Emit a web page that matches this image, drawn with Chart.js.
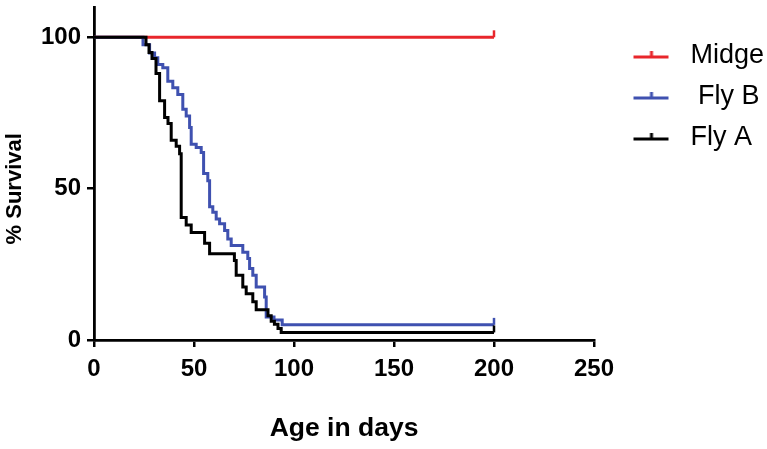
<!DOCTYPE html>
<html>
<head>
<meta charset="UTF-8">
<title>% Survival</title>
<script src="https://cdn.jsdelivr.net/npm/chart.js"></script>
<style>
  body { margin: 0; background: #fff; }
</style>
</head>
<body>
<canvas id="grafico" width="767" height="449"></canvas>
<script>
// datasets are listed bottom-to-top of the drawing; legend is shown reversed
const seriesNames = ['Fly A', ' Fly B', 'Midge'];
const seriesColors = ['#000000', '#3f51b0', '#e8262b'];

const flyADays = [0, 26, 27.5, 29, 31, 32.8, 35.3, 37, 38.6, 41.1, 42.8, 43.6, 46.1, 48.6, 55.3, 57.8, 70.2, 71.1, 74.4, 76.1, 79.4, 81.1, 87, 88.6, 90.2, 92, 93.6, 200];
const flyASurvival = [100, 97.5, 95, 93, 88, 79, 73.5, 71.5, 66, 64, 61.5, 40.5, 38, 35.5, 32, 28.5, 26.3, 21.4, 17.5, 15.3, 12.6, 10, 8, 6.2, 5.2, 3.8, 2.5, 2.5];

const flyBDays = [0, 24.5, 27.8, 30.3, 31.9, 34.4, 36.9, 39.4, 41.9, 44.4, 46.1, 47.8, 48.6, 51.1, 53.6, 54.8, 56.9, 57.8, 59.4, 61.1, 62.8, 65.3, 66.9, 68.6, 74.4, 76.9, 77.8, 79.4, 81.1, 85.3, 86.1, 90, 94.1, 200];
const flyBSurvival = [100, 97.5, 94.8, 93.2, 91, 89.9, 85.5, 83.3, 81.1, 76.2, 74, 70.2, 64.7, 63.6, 61.9, 55, 52.6, 44, 42.2, 40, 38.4, 36.2, 33.4, 31.2, 29, 26.9, 23.6, 21.4, 17.5, 14.2, 7.6, 6.6, 5, 5];

const midgeDays = [0, 200];
const midgeSurvival = [100, 100];

const yTicks = [0, 50, 100];

function pontos(dias, sobrev) {
    return dias.map((d, i) => ({ x: d, y: sobrev[i] }));
}

// small upward tick drawn at the censored end of each curve
function censorMark(cor) {
    const c = document.createElement('canvas');
    c.width = 4; c.height = 16;
    const g = c.getContext('2d');
    g.strokeStyle = cor; g.lineWidth = 2.5;
    g.beginPath(); g.moveTo(2, 1); g.lineTo(2, 8); g.stroke();
    return c;
}

// legend sample: line with a tick in the middle
function legendMark(cor) {
    const c = document.createElement('canvas');
    c.width = 70; c.height = 14;
    const g = c.getContext('2d');
    g.strokeStyle = cor; g.lineWidth = 3;
    g.beginPath();
    g.moveTo(26, 8); g.lineTo(61, 8);
    g.moveTo(44, 8); g.lineTo(44, 2);
    g.stroke();
    return c;
}

const legendIcons = seriesColors.map(legendMark);

const allData = [pontos(flyADays, flyASurvival), pontos(flyBDays, flyBSurvival), pontos(midgeDays, midgeSurvival)];

Chart.defaults.color = '#000';
Chart.defaults.font.family = "'Liberation Sans', Arial, sans-serif";

const ctx = document.getElementById('grafico').getContext('2d');
new Chart(ctx, {
    type: 'line',
    data: {
        datasets: allData.map((d, i) => ({
            label: seriesNames[i],
            data: d,
            borderColor: seriesColors[i],
            backgroundColor: seriesColors[i],
            borderWidth: 3,
            stepped: true,
            fill: false,
            pointStyle: censorMark(seriesColors[i]),
            pointRadius: c => c.dataIndex === d.length - 1 ? 4 : 0
        }))
    },
    options: {
        responsive: false,
        animation: false,
        layout: { padding: { top: 5, left: 0, right: 0, bottom: 0 } },
        plugins: {
            tooltip: { enabled: false },
            legend: {
                position: 'right',
                align: 'start',
                reverse: true,
                maxWidth: 173,
                title: { display: true, text: '', font: { size: 10, lineHeight: 2.35 }, padding: 0 },
                labels: {
                    usePointStyle: true,
                    pointStyleWidth: 69,
                    padding: 14,
                    font: { size: 27 },
                    generateLabels: chart => Chart.defaults.plugins.legend.labels.generateLabels(chart).map(item => {
                        item.pointStyle = legendIcons[item.datasetIndex];
                        return item;
                    })
                }
            }
        },
        scales: {
            x: {
                type: 'linear',
                min: 0,
                max: 250,
                afterFit: s => { s.height = 109; },
                ticks: { stepSize: 50, font: { size: 24, weight: 'bold' }, padding: 8 },
                grid: { drawOnChartArea: false, drawTicks: true, tickLength: 7, color: '#000', lineWidth: 2.5 },
                border: { display: true, color: '#000', width: 2.8 },
                title: { display: true, text: 'Age in days', font: { size: 26.5, weight: 'bold' }, padding: { bottom: 4 } }
            },
            y: {
                min: 0,
                max: 110,
                afterBuildTicks: s => { s.ticks = yTicks.map(v => ({ value: v })); },
                afterFit: s => { s.width = 94; s.paddingTop = 0; },
                ticks: { font: { size: 24, weight: 'bold' }, padding: 6 },
                grid: { drawOnChartArea: false, drawTicks: true, tickLength: 7, color: '#000', lineWidth: 2.5 },
                border: { display: true, color: '#000', width: 2.8 },
                title: { display: true, text: '% Survival     ', font: { size: 22, weight: 'bold' }, padding: { top: 2 } }
            }
        }
    }
});
</script>
</body>
</html>
